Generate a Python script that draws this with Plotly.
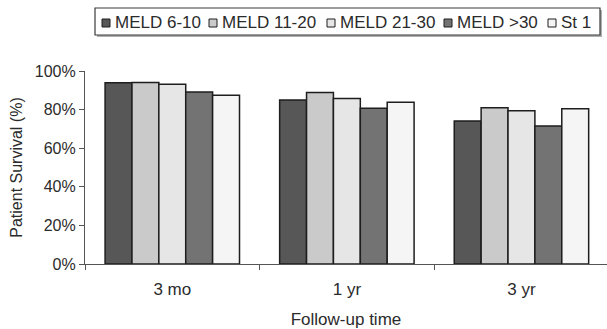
import plotly.graph_objects as go

# Follow-up time points and survival by MELD group (fraction surviving)
categories = ["3 mo", "1 yr", "3 yr"]
series_names = ["MELD 6-10", "MELD 11-20", "MELD 21-30", "MELD >30", "St 1"]
meld_6_10 = [0.939, 0.850, 0.741]
meld_11_20 = [0.940, 0.888, 0.810]
meld_21_30 = [0.931, 0.858, 0.794]
meld_gt_30 = [0.891, 0.807, 0.715]
status_1 = [0.874, 0.838, 0.805]
y_ticks = [0, 0.2, 0.4, 0.6, 0.8, 1.0]

series_values = [meld_6_10, meld_11_20, meld_21_30, meld_gt_30, status_1]
fills = ["#575757", "#cacaca", "#e6e6e6", "#737373", "#f5f5f5"]

W, H = 607, 329
ML, MR, MT, MB = 85, 0, 71, 65
PW, PH = W - ML - MR, H - MT - MB

FONT = "Liberation Sans, Arial, sans-serif"
TXT = "#2b2b2b"

fig = go.Figure()
for name, vals, col in zip(series_names, series_values, fills):
    fig.add_trace(go.Bar(
        x=categories, y=vals, name=name,
        marker=dict(color=col, line=dict(color="#1e1e1e", width=1.5)),
        showlegend=False,
    ))


def px_x(p):
    return (p - ML) / PW


def px_y(p):
    return 1 - (p - MT) / PH


# Hand-built legend box with small square swatches
shapes = []
annotations = []
box = (95, 8, 600, 35)
shapes.append(dict(type="rect", xref="paper", yref="paper",
                   x0=px_x(box[0] + 2), x1=px_x(box[2] + 2),
                   y0=px_y(box[1] + 2), y1=px_y(box[3] + 2),
                   line=dict(width=0), fillcolor="#b0b0b0", layer="above"))
shapes.append(dict(type="rect", xref="paper", yref="paper",
                   x0=px_x(box[0]), x1=px_x(box[2]),
                   y0=px_y(box[1]), y1=px_y(box[3]),
                   line=dict(color="#3a3a3a", width=1.2), fillcolor="white",
                   layer="above"))
swatch_left = [102, 209, 327, 444, 548]
for name, col, sx in zip(series_names, fills, swatch_left):
    shapes.append(dict(type="rect", xref="paper", yref="paper",
                       x0=px_x(sx), x1=px_x(sx + 8),
                       y0=px_y(19), y1=px_y(27),
                       line=dict(color="#1e1e1e", width=1), fillcolor=col,
                       layer="above"))
    annotations.append(dict(text=name, xref="paper", yref="paper",
                            x=px_x(sx + 11), y=px_y(22.5),
                            xanchor="left", yanchor="middle", showarrow=False,
                            font=dict(family=FONT, size=17, color=TXT)))

fig.update_layout(
    width=W, height=H,
    margin=dict(l=ML, r=MR, t=MT, b=MB, pad=0),
    paper_bgcolor="white", plot_bgcolor="white",
    barmode="group", bargap=0.23, bargroupgap=0,
    font=dict(family=FONT, size=16, color=TXT),
    shapes=shapes, annotations=annotations,
    xaxis=dict(
        range=[-0.5, 2.49], showline=True, linecolor="#555555", linewidth=1.2,
        ticks="outside", tickson="boundaries", ticklen=5, tickcolor="#555555",
        showgrid=False, zeroline=False, ticklabelstandoff=9,
        tickfont=dict(size=17, color=TXT),
        title=dict(text="Follow-up time", font=dict(size=17, color=TXT), standoff=16),
    ),
    yaxis=dict(
        range=[0, 1], tickvals=y_ticks, tickformat=".0%",
        showline=True, linecolor="#555555", linewidth=1.2,
        ticks="outside", ticklen=5, tickcolor="#555555",
        showgrid=False, zeroline=False,
        tickfont=dict(size=16, color=TXT),
        title=dict(text="Patient Survival (%)", font=dict(size=16, color=TXT), standoff=8),
    ),
)

fig.write_html("out.html")
